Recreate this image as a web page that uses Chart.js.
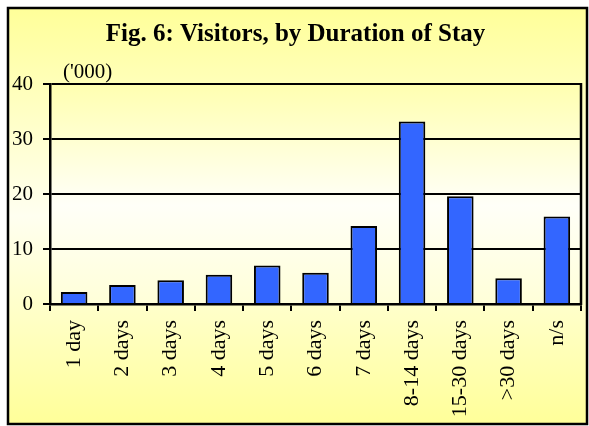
<!DOCTYPE html>
<html>
<head>
<meta charset="utf-8">
<script src="https://cdn.jsdelivr.net/npm/chart.js@4/dist/chart.umd.min.js"></script>
<style>
  html, body { margin: 0; padding: 0; background: #ffffff; }
  #c { display: block; }
</style>
</head>
<body>
<canvas id="c" width="589" height="426"></canvas>
<script>
// ---- data ----
const titleText = 'Fig. 6: Visitors, by Duration of Stay';
const unitLabel = "('000)";
const categories = ['1 day', '2 days', '3 days', '4 days', '5 days', '6 days', '7 days', '8-14 days', '15-30 days', '>30 days', 'n/s'];
const visitors = [2.2, 3.45, 4.3, 5.3, 7.0, 5.7, 14.2, 33.2, 19.6, 4.7, 15.9];
const yTickValues = [0, 10, 20, 30, 40];

const SERIF = '"Liberation Serif", "Times New Roman", serif';

const framePlugin = {
  id: 'frame',
  beforeDraw(chart) {
    const ctx = chart.ctx;
    const W = chart.width, H = chart.height;
    ctx.save();
    ctx.fillStyle = '#ffffff';
    ctx.fillRect(0, 0, W, H);
    // outer panel
    const x0 = 8, y0 = 8, x1 = 587, y1 = 424;
    const g = ctx.createLinearGradient(0, y0, 0, y1);
    g.addColorStop(0, '#FFFF99');
    g.addColorStop(0.5, '#FFFFF0');
    g.addColorStop(1, '#FFFF99');
    ctx.fillStyle = g;
    ctx.fillRect(x0, y0, x1 - x0, y1 - y0);
    ctx.lineWidth = 2.5;
    ctx.strokeStyle = '#000000';
    ctx.strokeRect(x0, y0, x1 - x0, y1 - y0);
    // plot area
    const a = chart.chartArea;
    const g2 = ctx.createLinearGradient(0, a.top, 0, a.bottom);
    g2.addColorStop(0, '#FFFFB0');
    g2.addColorStop(0.55, '#FFFFF8');
    g2.addColorStop(1, '#FFFFD8');
    ctx.fillStyle = g2;
    ctx.fillRect(a.left, a.top, a.right - a.left, a.bottom - a.top);
    ctx.restore();
  },
  afterDraw(chart) {
    const ctx = chart.ctx;
    const a = chart.chartArea;
    ctx.save();
    ctx.strokeStyle = '#000000';
    ctx.lineWidth = 2.5;
    ctx.beginPath();
    ctx.moveTo(a.right, a.top - 1);
    ctx.lineTo(a.right, a.bottom + 1);
    ctx.stroke();
    ctx.fillStyle = '#000000';
    ctx.font = '21px ' + SERIF;
    ctx.textAlign = 'left';
    ctx.textBaseline = 'alphabetic';
    ctx.fillText(unitLabel, a.left + 13, a.top - 6);
    ctx.restore();
  }
};

new Chart(document.getElementById('c'), {
  type: 'bar',
  data: {
    labels: categories,
    datasets: [{
      data: visitors,
      backgroundColor: '#3366FF',
      borderColor: '#000000',
      borderWidth: 2,
      borderSkipped: 'start',
      categoryPercentage: 1.0,
      barPercentage: 0.55
    }]
  },
  options: {
    responsive: false,
    animation: false,
    devicePixelRatio: 1,
    layout: { padding: { left: 10, right: 8, top: 0, bottom: 0 } },
    plugins: {
      legend: { display: false },
      tooltip: { enabled: false },
      title: {
        display: true,
        text: titleText,
        color: '#000000',
        font: { family: SERIF, size: 25, weight: 'bold', lineHeight: 1.2 },
        padding: { top: 20, bottom: 34 }
      }
    },
    scales: {
      x: {
        offset: true,
        grid: {
          offset: true,
          drawOnChartArea: false,
          drawTicks: true,
          tickLength: 7,
          color: '#000000',
          lineWidth: 2
        },
        border: { display: true, color: '#000000', width: 2.5 },
        ticks: {
          color: '#000000',
          font: { family: SERIF, size: 22 },
          minRotation: 90,
          maxRotation: 90,
          padding: 9,
          autoSkip: false
        },
        afterFit(scale) {
          scale.height = 122;
          scale.paddingLeft = 0;
          scale.paddingRight = 0;
        }
      },
      y: {
        min: 0,
        max: 40,
        afterBuildTicks(scale) {
          scale.ticks = yTickValues.map(v => ({ value: v }));
        },
        grid: {
          drawTicks: true,
          tickLength: 7,
          color: '#000000',
          lineWidth: 2
        },
        border: { display: true, color: '#000000', width: 2.5 },
        ticks: {
          color: '#000000',
          font: { family: SERIF, size: 21 },
          padding: 10
        },
        afterFit(scale) {
          scale.width = 40;
        }
      }
    }
  },
  plugins: [framePlugin]
});
</script>
</body>
</html>
